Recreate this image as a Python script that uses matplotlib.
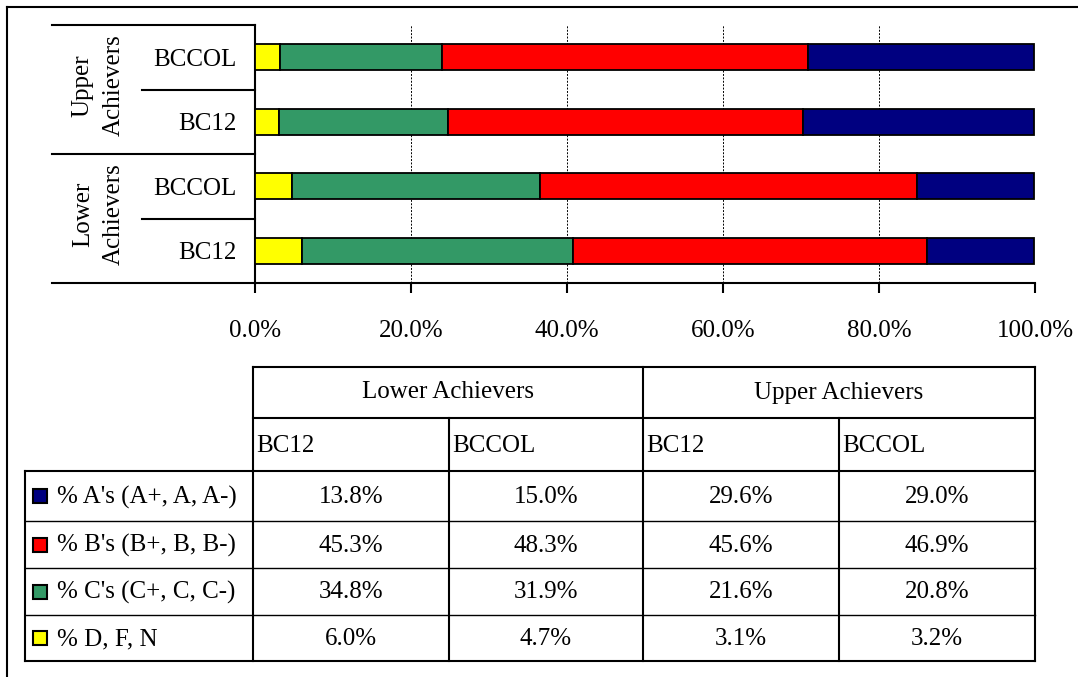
import matplotlib.pyplot as plt
from matplotlib.lines import Line2D
from matplotlib.patches import Rectangle

plt.rcParams['font.family'] = ['Liberation Serif', 'DejaVu Serif']

# data
groups = ['Lower Achievers', 'Upper Achievers']
tests = ['BC12', 'BCCOL']
bar_labels = ['BC12', 'BCCOL', 'BC12', 'BCCOL']  # bottom to top
grade_labels = ["% A's (A+, A, A-)", "% B's (B+, B, B-)", "% C's (C+, C, C-)", '% D, F, N']
grade_colors = ['#000080', '#FF0000', '#339966', '#FFFF00']
pct_A = [13.8, 15.0, 29.6, 29.0]
pct_B = [45.3, 48.3, 45.6, 46.9]
pct_C = [34.8, 31.9, 21.6, 20.8]
pct_D = [6.0, 4.7, 3.1, 3.2]
xticks = [0, 20, 40, 60, 80, 100]

W, H = 1078, 677
FS = 18
fig = plt.figure(figsize=(W / 100, H / 100), dpi=100)

# bar chart
x0, x1, ytop, ybot = 255, 1035, 25, 283
ax = fig.add_axes([x0 / W, 1 - ybot / H, (x1 - x0) / W, (ybot - ytop) / H])
ypos = [0.5, 1.5, 2.5, 3.5]
left = [0, 0, 0, 0]
for vals, col in [(pct_D, grade_colors[3]), (pct_C, grade_colors[2]),
                  (pct_B, grade_colors[1]), (pct_A, grade_colors[0])]:
    ax.barh(ypos, vals, left=left, height=0.41, color=col,
            edgecolor='black', linewidth=1.3, zorder=3)
    left = [l + v for l, v in zip(left, vals)]
ax.set_xlim(0, 100)
ax.set_ylim(0, 4)
ax.set_xticks(xticks)
ax.set_xticklabels(['{:.1f}%'.format(t) for t in xticks], fontsize=FS)
ax.set_yticks(ypos)
ax.set_yticklabels(bar_labels, fontsize=FS)
ax.tick_params(axis='x', length=7.5, width=1.5, pad=19)
ax.tick_params(axis='y', length=0, pad=13)
ax.xaxis.grid(True, color='black', linestyle=(0, (2, 1.5)), linewidth=0.7)
ax.set_axisbelow(True)
for s in ['top', 'right']:
    ax.spines[s].set_visible(False)
ax.spines['left'].set_linewidth(1.5)
ax.spines['bottom'].set_linewidth(1.5)

# overlay in pixel coordinates
ov = fig.add_axes([0, 0, 1, 1], facecolor='none')
ov.set_xlim(0, W)
ov.set_ylim(H, 0)
ov.axis('off')


def hline(y, xa, xb, lw=1.5):
    ov.add_line(Line2D([xa, xb], [y, y], color='black', linewidth=lw))


def vline(x, ya, yb, lw=1.5):
    ov.add_line(Line2D([x, x], [ya, yb], color='black', linewidth=lw))


# outer frame
hline(7, 7, W)
vline(7, 7, H)

# category axis dividers
hline(ytop, 52, x0)
hline((ytop + ybot) / 2, 52, x0)
hline(ybot, 52, x0)
slot = (ybot - ytop) / 4
hline(ytop + slot, 142, x0)
hline(ytop + 3 * slot, 142, x0)
for i, g in enumerate(groups):
    yc = ybot - slot - i * 2 * slot - 4
    ov.text(98, yc, g.replace(' ', '\n'), rotation=90, ha='center', va='center',
            multialignment='center', fontsize=FS, linespacing=1.5)

# data table
cols = [253, 449, 643, 839, 1035]
tl = 25
rows = [367, 418, 471, 521, 568, 615, 661]
hline(rows[0], cols[0], cols[-1])
hline(rows[1], cols[0], cols[-1])
hline(rows[2], tl, cols[-1])
for r in rows[3:-1]:
    hline(r, tl, cols[-1], lw=1)
hline(rows[-1], tl, cols[-1])
vline(tl, rows[2], rows[-1])
vline(cols[0], rows[0], rows[-1])
vline(cols[2], rows[0], rows[-1])
vline(cols[-1], rows[0], rows[-1])
vline(cols[1], rows[1], rows[-1])
vline(cols[3], rows[1], rows[-1])

for i, g in enumerate(groups):
    ov.text((cols[2 * i] + cols[2 * i + 2]) / 2, (rows[0] + rows[1]) / 2, g,
            ha='center', va='center', fontsize=FS)
    for j, t in enumerate(tests):
        ov.text(cols[2 * i + j] + 3, (rows[1] + rows[2]) / 2 + 1, t,
                ha='left', va='center', fontsize=FS)

table_vals = [pct_A, pct_B, pct_C, pct_D]
for r, (lab, col, vals) in enumerate(zip(grade_labels, grade_colors, table_vals)):
    yc = (rows[2 + r] + rows[3 + r]) / 2
    ov.add_patch(Rectangle((33, yc - 7), 14, 14, facecolor=col, edgecolor='black', linewidth=1.5))
    ov.text(57, yc + 1, lab, ha='left', va='center', fontsize=FS)
    for c, v in enumerate(vals):
        ov.text((cols[c] + cols[c + 1]) / 2, yc + 1, '{:.1f}%'.format(v),
                ha='center', va='center', fontsize=FS)

fig.savefig('out.png', dpi=100)
